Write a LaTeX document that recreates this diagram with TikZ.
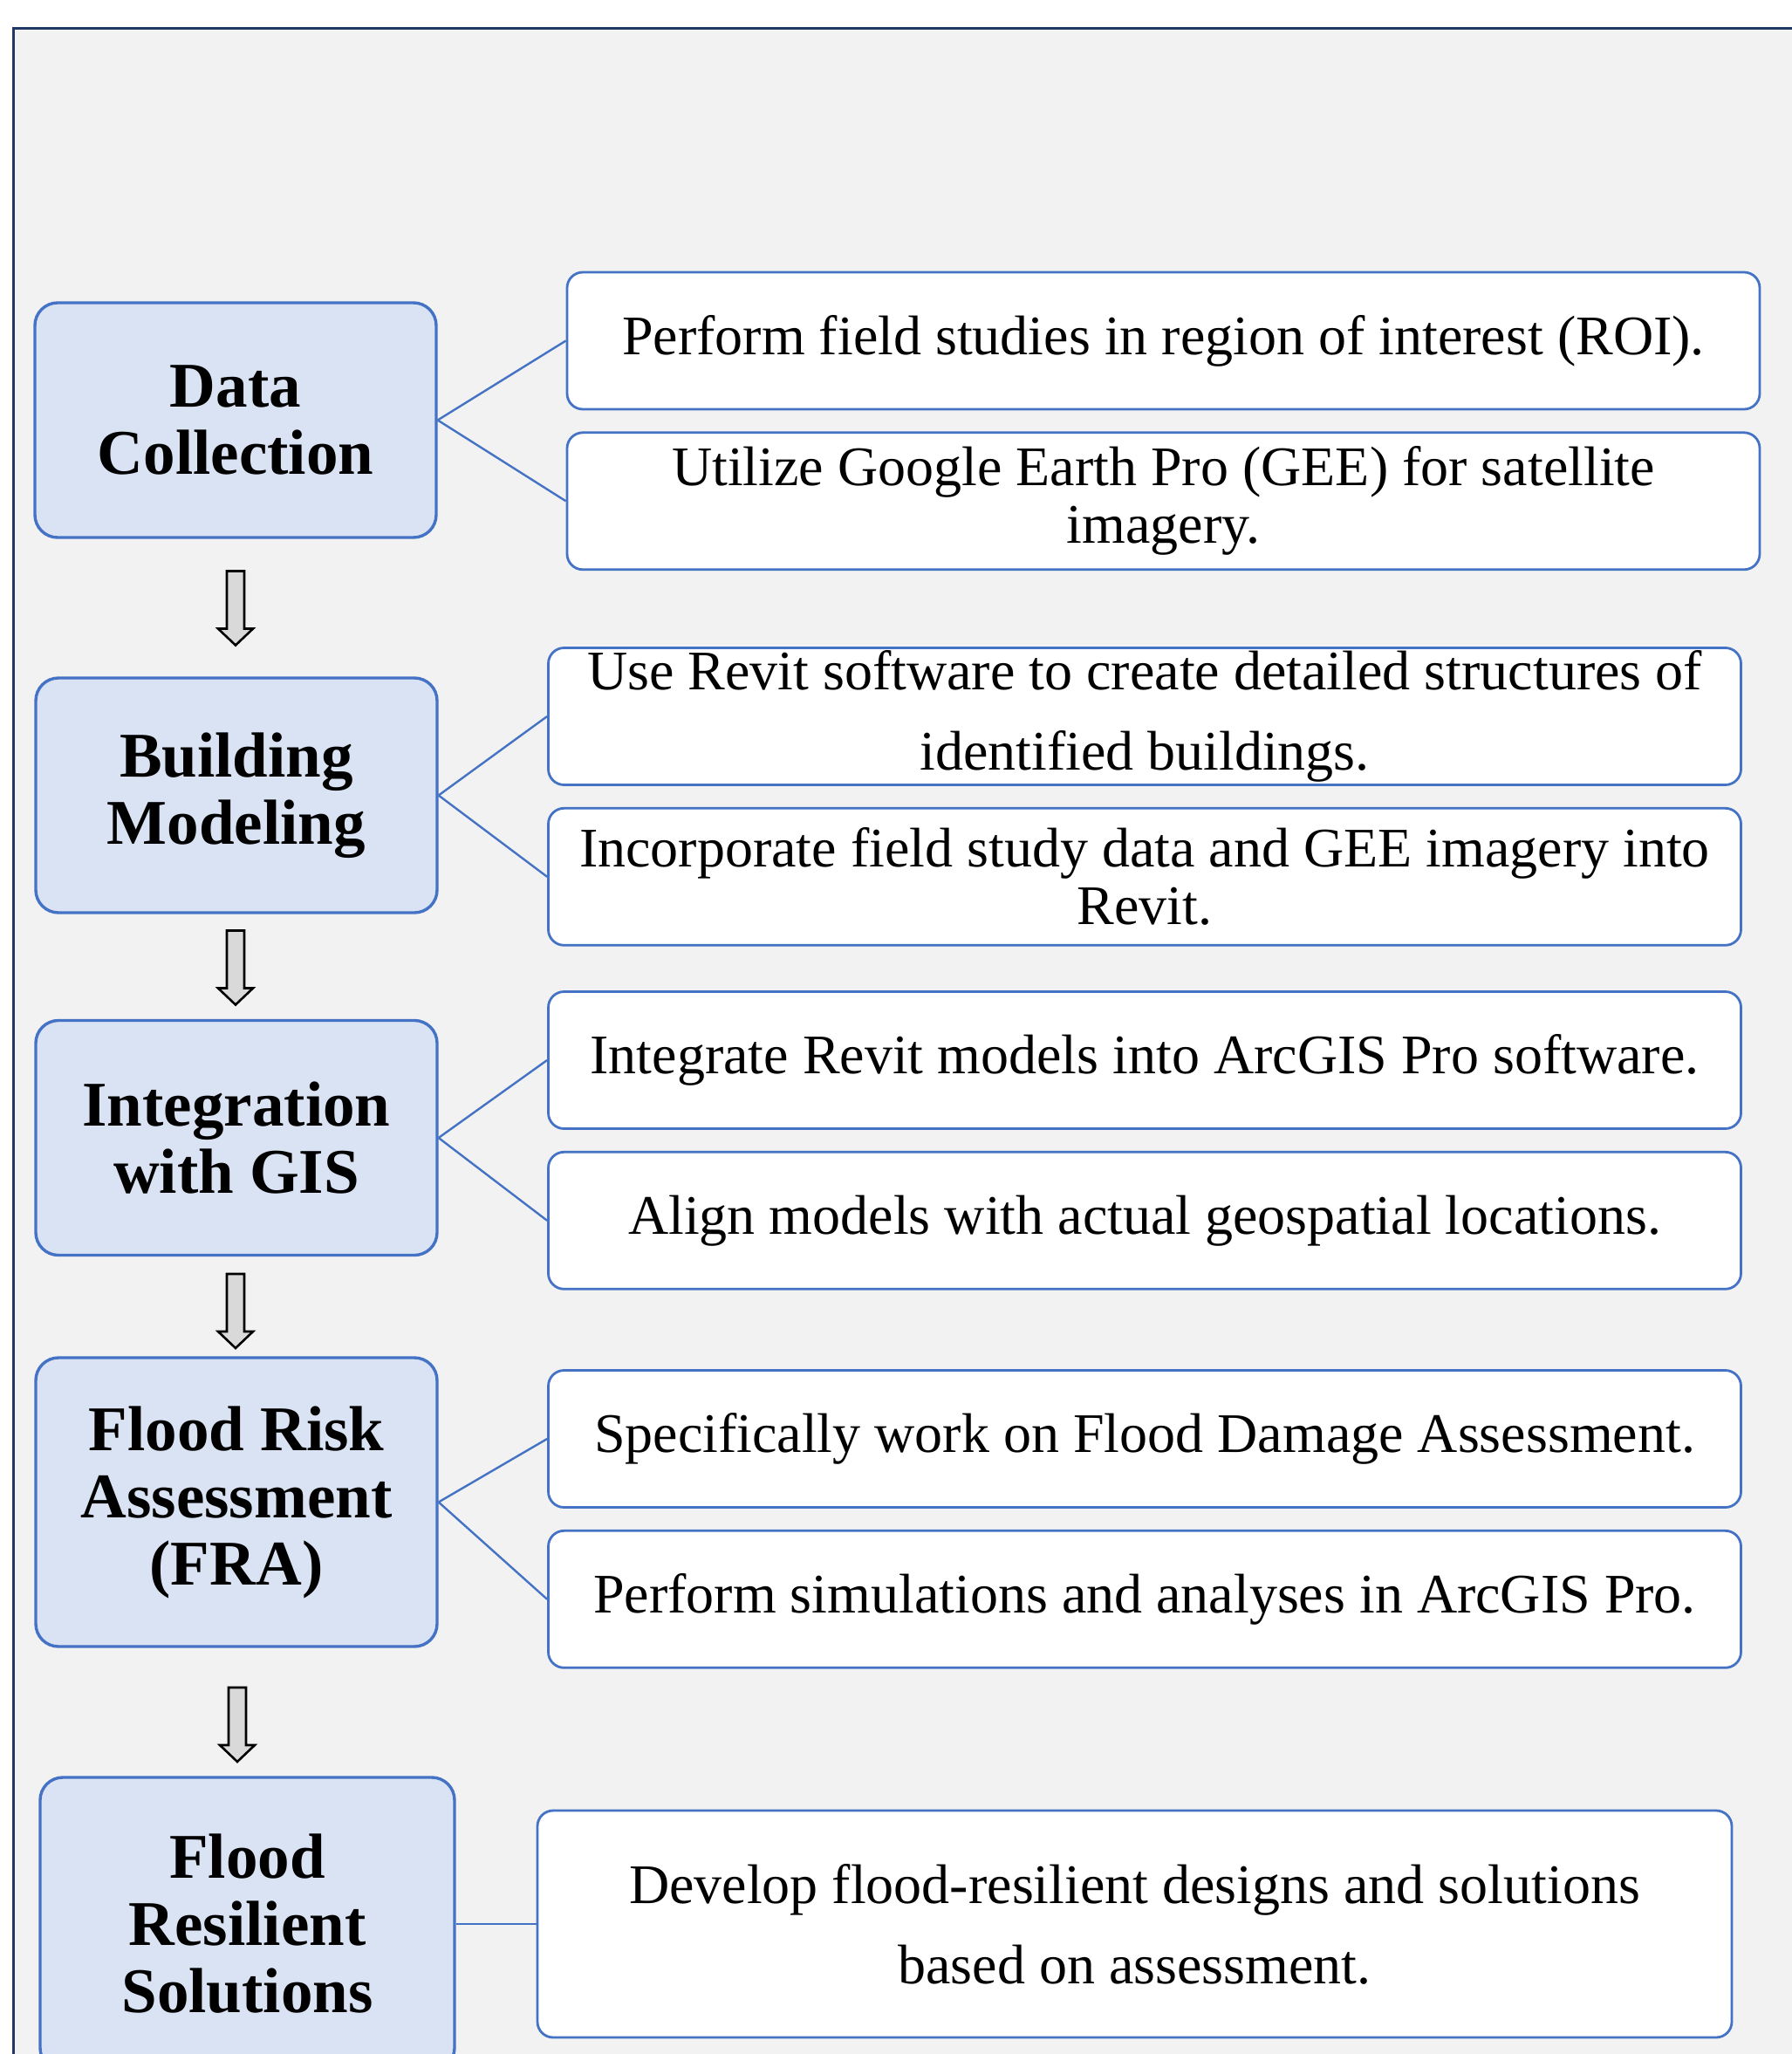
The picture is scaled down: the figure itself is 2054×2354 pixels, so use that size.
\documentclass[tikz,border=0pt]{standalone}
\usepackage{fontspec}
\setmainfont{Liberation Serif}
\usetikzlibrary{positioning}

\definecolor{stagefill}{HTML}{DAE3F3}
\definecolor{stageline}{HTML}{4472C4}
\definecolor{framefill}{HTML}{F2F2F2}
\definecolor{frameline}{HTML}{1F3864}
\definecolor{arrowfill}{HTML}{D9D9D9}

\newcommand{\flowarrow}[1]{\draw[flow] (#1) ++(-10,-42.5) -- ++(20,0) -- ++(0,66) -- ++(10,0) -- ++(-20,19) -- ++(-20,-19) -- ++(10,0) -- cycle;}

\begin{document}
\begin{tikzpicture}[x=0.5pt, y=-0.5pt, node distance=12pt,
	stage/.style={draw=stageline, fill=stagefill, line width=1.7pt, rounded corners=13pt, inner sep=0pt,
		align=center, font=\fontsize{36.5}{38.5}\selectfont\bfseries, minimum width=230pt, minimum height=134.5pt},
	task/.style={draw=stageline, fill=white, line width=1.4pt, rounded corners=9pt, inner sep=0pt,
		align=center, font=\fontsize{32}{33}\selectfont, minimum width=683.5pt, minimum height=78.5pt},
	wide/.style={font=\fontsize{32}{46}\selectfont},
	link/.style={draw=stageline, line width=1.2pt},
	flow/.style={draw=black, fill=arrowfill, line width=1.3pt, line join=miter}]
	\useasboundingbox (0,0) rectangle (2054,2354);
	\clip (0,0) rectangle (2054,2354);
	\draw[draw=frameline, fill=framefill, line width=1.5pt] (15,33) rectangle (2090,2390);
	
	\node[stage] (a1) at (270,481.5) {Data\\Collection};
	\node[stage] (a2) at (271,911.5) {Building\\Modeling};
	\node[stage] (a3) at (271,1304) {Integration\\with GIS};
	\node[stage, minimum height=165.5pt] (a4) at (271,1721.5) {Flood Risk\\Assessment\\(FRA)};
	\node[stage, minimum width=237.5pt, minimum height=168pt] (a5) at (283.5,2205) {Flood\\Resilient\\Solutions};
	
	\node[task] (b1) at (1333.5,390.5) {Perform field studies in region of interest (ROI).};
	\node[task, below=of b1] (c1) {Utilize Google Earth Pro (GEE) for satellite\\imagery.};
	\node[task, wide] (b2) at (1312,821) {Use Revit software to create detailed structures of\\identified buildings.};
	\node[task, below=of b2] (c2) {Incorporate field study data and GEE imagery into\\Revit.};
	\node[task] (b3) at (1312,1215) {Integrate Revit models into ArcGIS Pro software.};
	\node[task, below=of b3] (c3) {Align models with actual geospatial locations.};
	\node[task] (b4) at (1312,1649) {Specifically work on Flood Damage Assessment.};
	\node[task, below=of b4] (c4) {Perform simulations and analyses in ArcGIS Pro.};
	\node[task, wide, minimum width=684.5pt, minimum height=130pt] (b5) at (1300.5,2205) {Develop flood-resilient designs and solutions\\based on assessment.};
	
	\foreach \i in {1,...,4} {
		\draw[link] (a\i.east) -- (b\i.west);
		\draw[link] (a\i.east) -- (c\i.west);
	}
	\draw[link] (a5.east) -- (b5.west);
	
	\coordinate (d1) at (270,697);
	\coordinate (d2) at (270,1109);
	\coordinate (d3) at (270,1502.5);
	\coordinate (d4) at (272,1976.5);
	\foreach \d in {d1,d2,d3,d4} {
		\flowarrow{\d}
	}
\end{tikzpicture}
\end{document}
